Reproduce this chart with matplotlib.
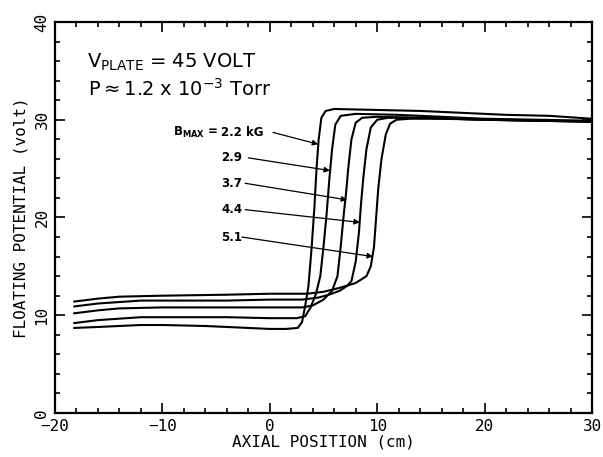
import matplotlib

matplotlib.use("Agg")
import matplotlib.pyplot as plt
from matplotlib.ticker import MultipleLocator

# Floating potential along the axis for five mirror fields B_MAX (kG)
b_max = ["2.2", "2.9", "3.7", "4.4", "5.1"]

x_22 = [-18.2, -16, -14, -12, -10, -6, -2, 0, 1.5, 2.6, 3.0, 3.3, 3.6, 3.9, 4.15,
        4.35, 4.55, 4.8, 5.2, 6, 10, 14, 18, 22, 26, 30]
v_22 = [8.7, 8.8, 8.9, 9.0, 9.0, 8.9, 8.7, 8.6, 8.6, 8.7, 9.3, 11.0, 13.0, 17.0, 21.0,
        25.0, 28.0, 30.2, 30.9, 31.1, 31.0, 30.9, 30.7, 30.5, 30.4, 30.1]

x_29 = [-18.2, -16, -12, -8, -4, 0, 2.5, 3.3, 3.8, 4.3, 4.7, 5.0, 5.3, 5.55,
        5.8, 6.1, 6.6, 8, 12, 16, 20, 25, 30]
v_29 = [9.2, 9.5, 9.8, 9.8, 9.8, 9.7, 9.7, 9.9, 10.8, 12.2, 14.0, 17.0, 20.5, 24.0,
        27.0, 29.5, 30.4, 30.6, 30.5, 30.3, 30.1, 30.0, 29.9]

x_37 = [-18.2, -16, -14, -10, -4, 0, 3.0, 4.0, 5.0, 5.8, 6.3, 6.6, 6.9, 7.1, 7.3,
        7.6, 8.0, 8.6, 10, 14, 20, 25, 30]
v_37 = [10.2, 10.5, 10.7, 10.8, 10.8, 10.8, 10.8, 11.0, 11.6, 12.5, 14.0, 17.0, 20.5,
        22.5, 25.0, 28.0, 29.7, 30.2, 30.3, 30.2, 30.0, 29.9, 29.8]

x_44 = [-18.2, -16, -12, -8, -4, 0, 3.0, 4.5, 5.5, 6.5, 7.2, 7.6, 8.0, 8.3, 8.5,
        8.7, 9.0, 9.4, 10.0, 11, 14, 20, 25, 30]
v_44 = [10.9, 11.2, 11.5, 11.5, 11.5, 11.6, 11.6, 11.8, 12.1, 12.5, 13.0, 13.5, 15.5,
        18.5, 21.5, 24.0, 27.0, 29.2, 30.0, 30.2, 30.2, 30.0, 29.9, 29.8]

x_51 = [-18.2, -16, -14, -10, -4, 0, 2, 3.5, 5, 6.5, 8, 9.0, 9.4, 9.7, 9.9, 10.1,
        10.4, 10.8, 11.2, 11.8, 13, 16, 20, 25, 30]
v_51 = [11.4, 11.7, 11.9, 12.0, 12.1, 12.2, 12.2, 12.2, 12.4, 12.8, 13.3, 14.0, 15.0,
        17.0, 20.0, 23.0, 26.0, 28.5, 29.6, 30.0, 30.1, 30.1, 30.0, 29.9, 29.8]

curves = [(x_22, v_22), (x_29, v_29), (x_37, v_37), (x_44, v_44), (x_51, v_51)]

# label anchor (cm, volt) and arrow tip on each curve
label_xy = [(-4.5, 28.7), (-4.5, 26.1), (-4.5, 23.5), (-4.5, 20.8), (-4.5, 18.0)]
tail_x = [0.3, -2.0, -2.3, -2.3, -2.6]
tip_xy = [(4.5, 27.5), (5.6, 24.8), (7.2, 21.8), (8.38, 19.5), (9.6, 16.0)]

mono = "DejaVu Sans Mono"

fig = plt.figure(figsize=(6.03, 4.57), dpi=100)
ax = fig.add_axes([0.0912, 0.0963, 0.8906, 0.8556])

for x, v in curves:
    ax.plot(x, v, color="black", lw=1.5, solid_joinstyle="round")

for i, (lab, (lx, ly), tx, tip) in enumerate(zip(b_max, label_xy, tail_x, tip_xy)):
    text = lab + " kG" if i == 0 else lab
    ax.text(lx, ly, text, fontsize=8.5, fontweight="bold", ha="left", va="center")
    ax.annotate("", xy=tip, xytext=(tx, ly),
                arrowprops=dict(arrowstyle="-|>", lw=0.9, color="black",
                                mutation_scale=8, shrinkA=0, shrinkB=0))
ax.text(-4.8, label_xy[0][1], r"B$_{\mathregular{MAX}}$ =", fontsize=8.5,
        fontweight="bold", ha="right", va="center")

ax.text(-17.0, 35.9, r"V$_{\mathregular{PLATE}}$ = 45 VOLT", fontsize=14,
        ha="left", va="center")
ax.text(-16.9, 33.2, r"P$\approx$1.2 x 10$^{\mathregular{-3}}$ Torr", fontsize=14,
        ha="left", va="center")

ax.set_xlim(-20, 30)
ax.set_ylim(0, 40)
ax.xaxis.set_major_locator(MultipleLocator(10))
ax.xaxis.set_minor_locator(MultipleLocator(2))
ax.yaxis.set_major_locator(MultipleLocator(10))
ax.yaxis.set_minor_locator(MultipleLocator(2))
ax.tick_params(which="both", direction="in", top=True, right=True, width=1.2)
ax.tick_params(which="major", length=7)
ax.tick_params(which="minor", length=3.5)
ax.tick_params(axis="x", labelsize=11.5, pad=4)
ax.tick_params(axis="y", labelsize=11.5, pad=4)
for lab in ax.get_xticklabels():
    lab.set_family(mono)
for lab in ax.get_yticklabels():
    lab.set_family(mono)
    lab.set_rotation(90)
    lab.set_va("center")
for s in ax.spines.values():
    s.set_linewidth(1.6)

ax.set_xlabel("AXIAL POSITION (cm)", family=mono, fontsize=11.5, labelpad=1)
ax.set_ylabel("FLOATING POTENTIAL (volt)", family=mono, fontsize=11.5, labelpad=4)

fig.savefig("out.png", dpi=100)
